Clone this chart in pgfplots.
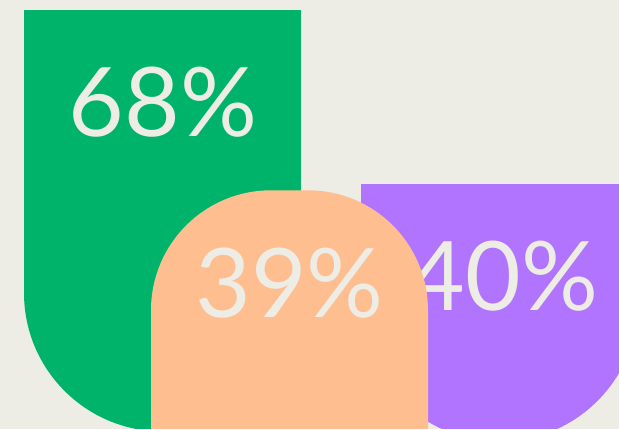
\documentclass[border=0pt]{standalone}
\usepackage{pgfplots}
\pgfplotsset{compat=1.18}
\usepackage{fontspec}
\setmainfont{Lato}
\definecolor{bgc}{RGB}{237,236,229}
\definecolor{gr}{RGB}{0,179,106}
\definecolor{pe}{RGB}{255,190,143}
\definecolor{pu}{RGB}{176,116,255}
% lower half disc, used as the rounded end of a bar
\pgfdeclareplotmark{lowerhalf}{%
  \pgfpathmoveto{\pgfqpoint{\pgfplotmarksize}{0pt}}%
  \pgfpatharc{0}{-180}{\pgfplotmarksize}%
  \pgfpathclose
  \pgfusepathqfill}
\begin{document}
\begin{tikzpicture}
\begin{axis}[
  width=619pt, height=429pt, scale only axis,
  xmin=0, xmax=619, ymin=0.5, ymax=69.694,
  axis line style={draw=none}, ticks=none,
  axis background/.style={fill=bgc},
  clip marker paths=true,
  clip bounding box=upper bound,
]
% green bar: 68%
\addplot[fill=gr, draw=none] coordinates {(24,68) (301,68) (301,22.3) (24,22.3)} -- cycle;
\addplot[only marks, mark=lowerhalf, mark size=138.5pt, mark options={fill=gr, draw=none}] coordinates {(162.5,22.44)};
\node[anchor=base, text=bgc, font=\fontsize{96}{96}\selectfont] at (axis cs:163,47.6) {68\%};
% purple bar: 40%
\addplot[fill=pu, draw=none] coordinates {(361,40) (638,40) (638,20.7) (361,20.7)} -- cycle;
\addplot[only marks, mark=lowerhalf, mark size=138.5pt, mark options={fill=pu, draw=none}] coordinates {(499.5,20.82)};
\node[anchor=base, text=bgc, font=\fontsize{96}{96}\selectfont] at (axis cs:504,19.69) {40\%};
% peach bar: 39%
\addplot[fill=pe, draw=none, rounded corners=120pt] coordinates {(289.5,-30) (151,-30) (151,39) (428,39) (428,-30)} -- cycle;
\node[anchor=base, text=bgc, font=\fontsize{96}{96}\selectfont] at (axis cs:289.5,18.56) {39\%};
\end{axis}
\end{tikzpicture}
\end{document}
